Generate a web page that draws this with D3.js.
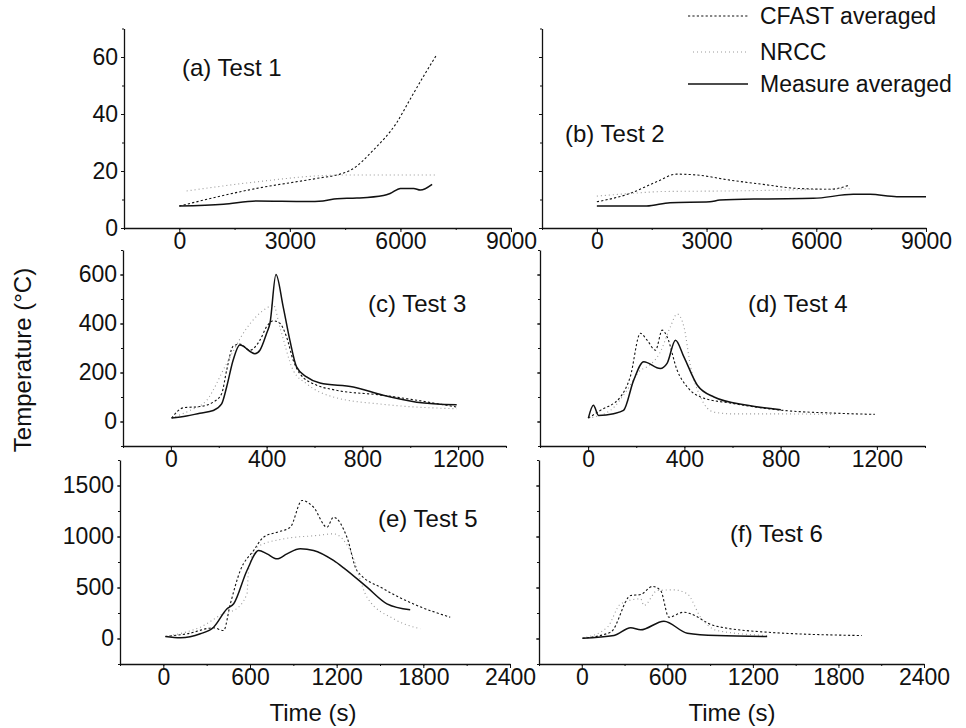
<!DOCTYPE html>
<html>
<head>
<meta charset="utf-8">
<title>Temperature comparison</title>
<style>
  body { margin: 0; background: #fff; }
  text { font-family: "Liberation Sans", Arial, sans-serif; fill: #111; }
</style>
</head>
<body>
<script src="https://d3js.org/d3.v7.min.js"></script>
<script>
// ---- data: [time (s), temperature (°C)] ----
const test1Cfast   = [[0,7.7],[2100,13.9],[3730,17.4],[4360,18.9],[4650,20.3],[5270,27.4],[5900,37],[6260,45.1],[6620,53.1],[6980,60.7]];
const test1Nrcc    = [[200,13],[2100,16.2],[3900,18.4],[4550,18.6],[7000,18.6]];
const test1Measure = [[0,7.7],[1200,8.3],[2100,9.5],[3460,9.3],[3900,9.5],[4280,10.3],[4820,10.5],[5540,11.4],[5720,12.1],[6000,13.9],[6360,13.9],[6540,13.3],[6860,15.3]];

const test2Cfast   = [[0,9.2],[900,12.1],[1630,16.2],[2180,18.9],[2730,18.6],[3640,16.8],[4550,15.3],[5460,13.9],[6370,13.6],[6920,15.1]];
const test2Nrcc    = [[0,11.2],[900,12.1],[1810,12.8],[3640,13],[5460,13.4],[6920,13.8]];
const test2Measure = [[0,7.7],[1360,7.7],[2000,8.9],[3090,9.2],[3365,9.8],[4550,10.2],[5920,10.4],[7010,11.8],[7470,11.8],[8200,11],[9000,11]];

const test3Cfast   = [[3,14],[52,56],[121,61],[177,79],[212,113],[233,209],[260,307],[288,316],[330,291],[372,332],[400,387],[428,411],[455,401],[483,346],[511,250],[539,195],[609,148],[678,130],[887,107],[1194,59]];
const test3Nrcc    = [[3,14],[79,45],[149,86],[233,237],[316,380],[400,463],[428,476],[455,387],[511,209],[567,154],[678,100],[887,70],[1194,52]];
const test3Measure = [[3,14],[65,22],[121,34],[177,45],[212,72],[233,141],[260,250],[288,312],[351,277],[372,291],[400,360],[414,401],[439,600],[469,469],[497,332],[525,223],[567,182],[623,157],[762,141],[887,107],[1027,79],[1194,68]];

const test4Cfast   = [[1,14],[50,45],[134,100],[175,182],[217,360],[245,332],[280,291],[308,373],[328,346],[370,209],[412,141],[467,100],[606,73],[815,45],[1024,34],[1191,29]];
const test4Nrcc    = [[1,14],[92,45],[161,127],[217,209],[245,223],[300,284],[342,387],[370,439],[398,387],[426,223],[467,100],[523,38],[606,31],[815,31],[1024,29]];
const test4Measure = [[1,14],[22,66],[43,25],[106,32],[147,45],[189,168],[231,244],[300,216],[328,237],[363,332],[398,264],[454,148],[523,100],[662,66],[801,48]];

const test5Cfast   = [[14,20],[164,46],[348,105],[417,78],[464,340],[533,667],[625,863],[694,993],[787,1042],[879,1091],[960,1353],[1040,1287],[1133,1091],[1178,1189],[1271,993],[1340,667],[1525,487],[1756,324],[1986,209]];
const test5Nrcc    = [[14,20],[256,111],[441,258],[487,275],[579,438],[590,667],[648,896],[833,977],[1063,1010],[1178,1026],[1294,863],[1410,405],[1594,193],[1779,95]];
const test5Measure = [[14,20],[118,7],[256,46],[348,111],[441,291],[487,340],[579,667],[660,863],[718,830],[787,781],[856,830],[948,879],[1040,863],[1178,765],[1248,693],[1410,503],[1548,340],[1709,281]];

const test6Cfast   = [[5,3],[203,62],[343,421],[413,431],[495,510],[553,470],[611,209],[716,258],[763,242],[926,127],[1300,62],[1964,29]];
const test6Nrcc    = [[5,3],[180,111],[273,340],[413,389],[436,323],[530,470],[646,477],[740,438],[833,209],[950,78],[1300,29]];
const test6Measure = [[5,3],[226,29],[343,105],[413,85],[576,170],[740,52],[950,29],[1300,20]];

// ---- tick labels ----
const ticksX12 = [0, 3000, 6000, 9000];
const ticksY12 = [0, 20, 40, 60];
const ticksX34 = [0, 400, 800, 1200];
const ticksY34 = [0, 200, 400, 600];
const ticksX56 = [0, 600, 1200, 1800, 2400];
const ticksY56 = [0, 500, 1000, 1500];

const seriesNames = ["CFAST averaged", "NRCC", "Measure averaged"];
const panelLabels = ["(a) Test 1", "(b) Test 2", "(c) Test 3", "(d) Test 4", "(e) Test 5", "(f) Test 6"];

// ---- layout ----
const width = 966, height = 728;
const svg = d3.select("body").append("svg")
  .attr("width", width).attr("height", height);

const styles = [
  { dash: "2.2,2.2", color: "#111", w: 1.1 },   // CFAST
  { dash: "1,3",     color: "#999", w: 1.1 },   // NRCC
  { dash: null,      color: "#111", w: 1.5 }    // measure
];

const panels = [
  { label: panelLabels[0], series: [test1Cfast, test1Nrcc, test1Measure], xd: [-1500, 9000], yd: [0, 70],
    xr: [124, 511], yr: [228, 28.5], xt: ticksX12, yt: ticksY12, xm: 1500, ym: 10, showY: true, lx: 182, ly: 76 },
  { label: panelLabels[1], series: [test2Cfast, test2Nrcc, test2Measure], xd: [-1500, 9000], yd: [0, 70],
    xr: [542, 926], yr: [228, 28.5], xt: ticksX12, yt: ticksY12, xm: 1500, ym: 10, showY: false, lx: 565, ly: 142 },
  { label: panelLabels[2], series: [test3Cfast, test3Nrcc, test3Measure], xd: [-200, 1400], yd: [-100, 700],
    xr: [123, 506], yr: [446, 250], xt: ticksX34, yt: ticksY34, xm: 200, ym: 100, showY: true, lx: 368, ly: 312 },
  { label: panelLabels[3], series: [test4Cfast, test4Nrcc, test4Measure], xd: [-200, 1400], yd: [-100, 700],
    xr: [540, 925], yr: [446, 250], xt: ticksX34, yt: ticksY34, xm: 200, ym: 100, showY: false, lx: 748, ly: 312 },
  { label: panelLabels[4], series: [test5Cfast, test5Nrcc, test5Measure], xd: [-300, 2400], yd: [-250, 1750],
    xr: [120, 510], yr: [664, 460], xt: ticksX56, yt: ticksY56, xm: 300, ym: 250, showY: true, lx: 378, ly: 527 },
  { label: panelLabels[5], series: [test6Cfast, test6Nrcc, test6Measure], xd: [-300, 2400], yd: [-250, 1750],
    xr: [539, 924], yr: [664, 460], xt: ticksX56, yt: ticksY56, xm: 300, ym: 250, showY: false, lx: 730, ly: 542 }
];

panels.forEach(function(p) {
  const x = d3.scaleLinear().domain(p.xd).range(p.xr);
  const y = d3.scaleLinear().domain(p.yd).range(p.yr);
  const g = svg.append("g");

  const xMinor = d3.range(p.xd[0], p.xd[1] + 1, p.xm);
  const yMinor = d3.range(p.yd[0], p.yd[1] + 1, p.ym);

  // minor ticks
  g.append("g").attr("transform", "translate(0," + p.yr[0] + ")")
    .call(d3.axisBottom(x).tickValues(xMinor).tickSize(2).tickFormat(""))
    .call(a => a.select(".domain").remove());
  g.append("g").attr("transform", "translate(" + p.xr[0] + ",0)")
    .call(d3.axisLeft(y).tickValues(yMinor).tickSize(2).tickFormat(""))
    .call(a => a.select(".domain").remove());

  // major axes
  g.append("g").attr("transform", "translate(0," + p.yr[0] + ")")
    .call(d3.axisBottom(x).tickValues(p.xt).tickSize(4).tickSizeOuter(0).tickPadding(1)
      .tickFormat(d3.format("d")))
    .call(a => a.selectAll("text").style("font-size", "23px"));
  g.append("g").attr("transform", "translate(" + p.xr[0] + ",0)")
    .call(d3.axisLeft(y).tickValues(p.yt).tickSize(3).tickSizeOuter(0).tickPadding(3)
      .tickFormat(p.showY ? d3.format("d") : ""))
    .call(a => a.selectAll("text").style("font-size", "23px"));

  g.selectAll(".domain").attr("stroke", "#111").attr("stroke-width", 1.3);
  g.selectAll(".tick line").attr("stroke", "#111");
  g.selectAll(".tick text").attr("fill", "#111").style("font-family", "'Liberation Sans', Arial, sans-serif");

  const line = d3.line().x(d => x(d[0])).y(d => y(d[1])).curve(d3.curveMonotoneX);
  p.series.forEach(function(s, i) {
    g.append("path").datum(s)
      .attr("d", line)
      .attr("fill", "none")
      .attr("stroke", styles[i].color)
      .attr("stroke-width", styles[i].w)
      .attr("stroke-dasharray", styles[i].dash);
  });

  g.append("text").attr("x", p.lx).attr("y", p.ly)
    .style("font-size", "24px").text(p.label);
});

// axis titles
svg.append("text").attr("x", 313).attr("y", 721).attr("text-anchor", "middle")
  .style("font-size", "24px").text("Time (s)");
svg.append("text").attr("x", 732).attr("y", 721).attr("text-anchor", "middle")
  .style("font-size", "24px").text("Time (s)");
svg.append("text").attr("transform", "translate(31,360) rotate(-90)").attr("text-anchor", "middle")
  .style("font-size", "24px").text("Temperature (\u00B0C)");

// legend
const legY = [16, 52, 84];
seriesNames.forEach(function(name, i) {
  svg.append("line")
    .attr("x1", i === 1 ? 693 : 688).attr("x2", 748)
    .attr("y1", legY[i]).attr("y2", legY[i])
    .attr("stroke", styles[i].color)
    .attr("stroke-width", styles[i].w)
    .attr("stroke-dasharray", styles[i].dash);
  svg.append("text").attr("x", 760).attr("y", legY[i] + 8)
    .style("font-size", "23px").text(name);
});
</script>
</body>
</html>
